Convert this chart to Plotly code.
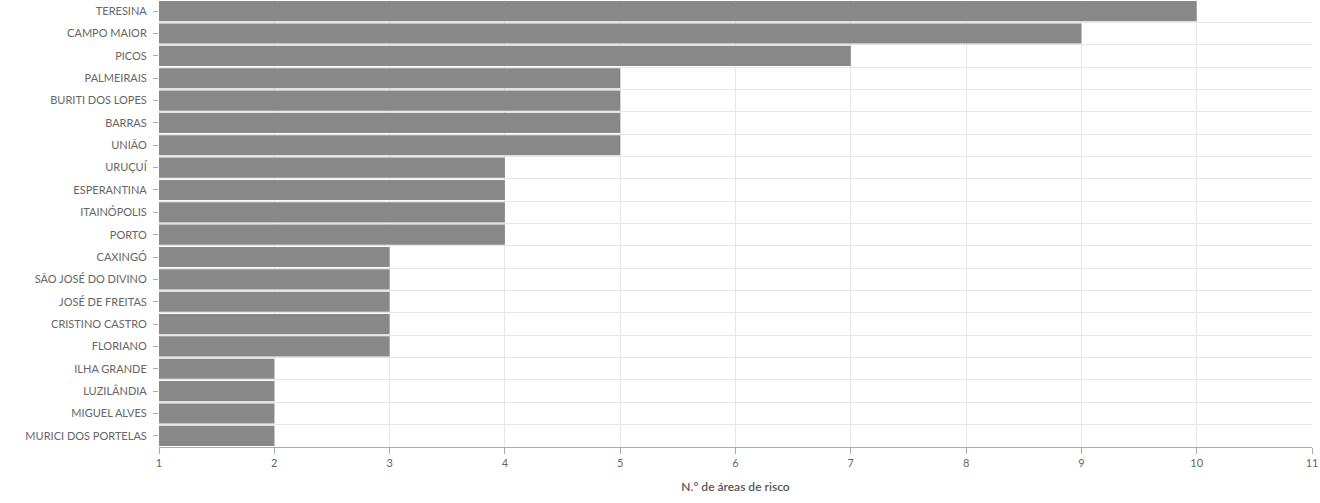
import plotly.graph_objects as go

cities = ["TERESINA", "CAMPO MAIOR", "PICOS", "PALMEIRAIS", "BURITI DOS LOPES",
          "BARRAS", "UNIÃO", "URUÇUÍ", "ESPERANTINA", "ITAINÓPOLIS", "PORTO",
          "CAXINGÓ", "SÃO JOSÉ DO DIVINO", "JOSÉ DE FREITAS", "CRISTINO CASTRO",
          "FLORIANO", "ILHA GRANDE", "LUZILÂNDIA", "MIGUEL ALVES", "MURICI DOS PORTELAS"]
values = [10, 9, 7, 5, 5, 5, 5, 4, 4, 4, 4, 3, 3, 3, 3, 3, 2, 2, 2, 2]
x_ticks = [1, 2, 3, 4, 5, 6, 7, 8, 9, 10, 11]
x_title = "N.° de áreas de risco"

positions = list(range(len(cities)))

fig = go.Figure(go.Bar(
    x=values, y=positions, orientation="h",
    marker=dict(color="#888888", line=dict(width=0)),
    hovertext=cities,
))

fig.update_layout(
    width=1320, height=503,
    margin=dict(l=159, r=8, t=0, b=56, autoexpand=False),
    paper_bgcolor="white", plot_bgcolor="white",
    bargap=0.1,
    showlegend=False,
    font=dict(family="Lato, Open Sans, sans-serif", size=11, color="#666666"),
    xaxis=dict(
        range=[1, 11], tickvals=x_ticks,
        automargin=False,
        showgrid=True, gridcolor="#e6e6e6", gridwidth=1,
        showline=True, linecolor="#aaaaaa", linewidth=1,
        ticks="outside", ticklen=6, tickcolor="#aaaaaa",
        tickfont=dict(size=11, color="#666666"),
        zeroline=False,
        title=dict(text=x_title, standoff=14,
                   font=dict(size=12, color="#555555", weight=600,
                             family="Lato, Open Sans, sans-serif")),
    ),
    yaxis=dict(
        range=[len(cities) - 0.5, -0.5],
        tickvals=positions, ticktext=cities,
        automargin=False,
        showgrid=False, zeroline=False, showline=False,
        ticks="outside", ticklen=5, tickcolor="#aaaaaa",
        ticklabelstandoff=4,
        tickfont=dict(size=11, color="#666666"),
        minor=dict(tick0=0.5, dtick=1, showgrid=True, gridcolor="#e6e6e6", ticks=""),
    ),
)

fig.write_html("out.html", config={"displayModeBar": False},
               post_script="document.body.style.margin='0';")
